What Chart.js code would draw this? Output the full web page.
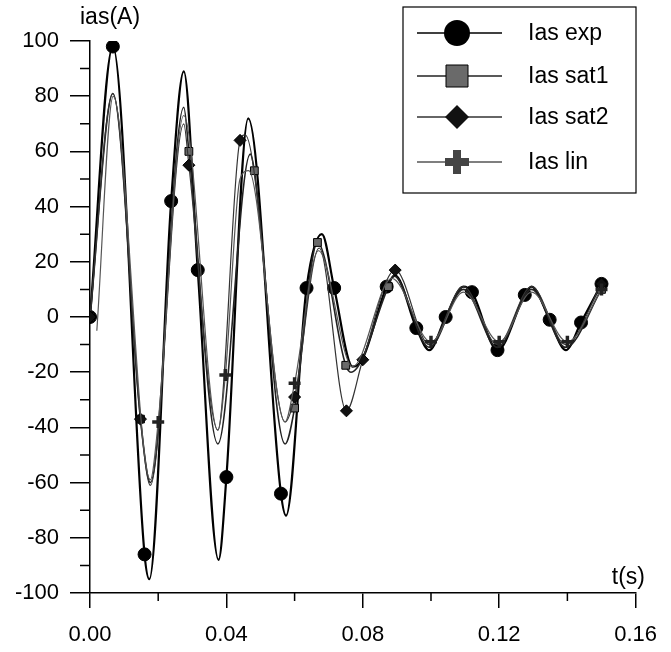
<!DOCTYPE html>
<html>
<head>
<meta charset="utf-8">
<title>ias(t)</title>
<script src="https://cdn.jsdelivr.net/npm/chart.js@4/dist/chart.umd.min.js"></script>
<style>
  html, body { margin: 0; padding: 0; background: #fff; }
  #wrap { width: 671px; height: 652px; }
</style>
</head>
<body>
<div id="wrap"><canvas id="myChart" width="671" height="652"></canvas></div>
<script>
// measured current (exp) and three simulations, time in s, current in A
const expT = [0, 0.0067, 0.0160, 0.0174, 0.0238, 0.0275, 0.0316, 0.0377, 0.0400, 0.0464, 0.0560, 0.0575, 0.0635, 0.0680, 0.0716, 0.0770, 0.0800, 0.0870, 0.0895, 0.0957, 0.0995, 0.1043, 0.1095, 0.1120, 0.1195, 0.1275, 0.1295, 0.1348, 0.1395, 0.1440, 0.1500];
const expI = [0, 98, -86, -95, 42, 89, 17, -88, -58, 72, -64, -72, 10.5, 30, 10.5, -18, -15, 11, 15, -4, -12, 0, 11, 9, -12, 8, 11, -1, -12, -2, 12];
const expMarks = [0, 1, 2, 4, 6, 8, 10, 12, 14, 17, 19, 21, 23, 24, 25, 27, 29, 30];

const sat1T = [0, 0.0067, 0.0148, 0.0177, 0.0275, 0.0290, 0.0375, 0.0470, 0.0482, 0.0572, 0.0600, 0.0667, 0.0750, 0.0765, 0.0875, 0.0890, 0.0995, 0.1095, 0.1195, 0.1295, 0.1395, 0.1500];
const sat1I = [0, 81, -37, -60, 76, 60, -46, 59, 53, -46, -33, 27, -17.5, -20, 11, 15, -11, 10, -11, 10, -11, 10];
const sat1Marks = [0, 2, 5, 8, 10, 11, 12, 14, 21];

const sat2T = [0, 0.0067, 0.0148, 0.0177, 0.0275, 0.0290, 0.0375, 0.0440, 0.0455, 0.0572, 0.0600, 0.0672, 0.0752, 0.0800, 0.0895, 0.0995, 0.1095, 0.1195, 0.1295, 0.1395, 0.1500];
const sat2I = [0, 81, -37, -61, 70, 55, -41, 64, 66, -38, -29, 25, -34, -15.5, 17, -10, 11, -10, 11, -10, 12];
const sat2Marks = [0, 2, 5, 7, 10, 12, 13, 14, 20];

const linT = [0.0020, 0.0068, 0.0177, 0.0200, 0.0275, 0.0375, 0.0397, 0.0440, 0.0465, 0.0572, 0.0600, 0.0670, 0.0770, 0.0885, 0.1000, 0.1095, 0.1200, 0.1295, 0.1400, 0.1500];
const linI = [-5, 80, -59, -38, 73, -41, -21, 50, 53, -38, -24, 24, -18, 14, -9, 9, -9, 9, -9, 10];
const linMarks = [3, 6, 10, 14, 16, 18, 19];

const seriesNames = ['Ias exp', 'Ias sat1', 'Ias sat2', 'Ias lin'];
const xTicks = [0, 0.04, 0.08, 0.12, 0.16];
const yTicks = [-100, -80, -60, -40, -20, 0, 20, 40, 60, 80, 100];

const FONT = 'Liberation Sans, Arial, sans-serif';

function pts(ts, vs) {
    return ts.map((t, i) => ({ x: t, y: vs[i] }));
}
function radii(ts, marks, r) {
    return ts.map((t, i) => marks.includes(i) ? r : 0);
}

const styles = [
    { color: '#000', width: 2.2, point: 'circle', r: 6.5, fill: '#000' },
    { color: '#222', width: 1.6, point: 'rect', r: 5.5, fill: '#6a6a6a' },
    { color: '#333', width: 1.2, point: 'rectRot', r: 6, fill: '#111' },
    { color: '#555', width: 1.2, point: 'cross', r: 6, fill: '#333' }
];

const raw = [
    [expT, expI, expMarks],
    [sat1T, sat1I, sat1Marks],
    [sat2T, sat2I, sat2Marks],
    [linT, linI, linMarks]
];

const datasets = raw.map((s, k) => ({
    label: seriesNames[k],
    data: pts(s[0], s[1]),
    borderColor: styles[k].color,
    borderWidth: styles[k].width,
    cubicInterpolationMode: 'monotone',
    pointStyle: styles[k].point,
    pointRadius: radii(s[0], s[2], styles[k].r),
    pointBackgroundColor: styles[k].fill,
    pointBorderColor: k === 3 ? '#222' : '#000',
    pointBorderWidth: k === 3 ? 3.5 : 1,
    fill: false,
    order: 3 - k
}));

// minor ticks, axis captions and the boxed legend
const decorations = {
    id: 'decorations',
    afterDraw(chart) {
        const ctx = chart.ctx;
        const xs = chart.scales.x, ys = chart.scales.y;
        const left = xs.left, bottom = ys.bottom;
        ctx.save();
        ctx.strokeStyle = '#000';
        ctx.lineWidth = 1.5;
        ctx.beginPath();
        for (let v = -90; v < 100; v += 20) {
            const py = ys.getPixelForValue(v);
            ctx.moveTo(left - 10, py);
            ctx.lineTo(left, py);
        }
        for (let v = 0.02; v < 0.16; v += 0.04) {
            const px = xs.getPixelForValue(v);
            ctx.moveTo(px, bottom);
            ctx.lineTo(px, bottom + 8);
        }
        ctx.stroke();

        ctx.fillStyle = '#000';
        ctx.font = '23px ' + FONT;
        ctx.textBaseline = 'middle';
        ctx.textAlign = 'left';
        ctx.fillText('ias(A)', 80, 18);
        ctx.textAlign = 'right';
        ctx.fillText('t(s)', 645, 578);

        // legend box
        const bx = 403, by = 7, bw = 233, bh = 186;
        ctx.lineWidth = 1.2;
        ctx.strokeRect(bx, by, bw, bh);
        const rowY = [33, 76, 117, 162];
        ctx.textAlign = 'left';
        ctx.font = '23px ' + FONT;
        rowY.forEach((y, k) => {
            const st = styles[k];
            ctx.strokeStyle = st.color;
            ctx.lineWidth = 1.4;
            ctx.beginPath();
            ctx.moveTo(417, y);
            ctx.lineTo(502, y);
            ctx.stroke();
            drawMarker(ctx, k, 457, y);
            ctx.fillStyle = '#000';
            ctx.fillText(seriesNames[k], 528, y + 1);
        });
        ctx.restore();
    }
};

function drawMarker(ctx, k, x, y) {
    ctx.save();
    ctx.fillStyle = styles[k].fill;
    ctx.strokeStyle = '#000';
    ctx.lineWidth = 1;
    ctx.beginPath();
    if (k === 0) {
        ctx.arc(x, y, 13, 0, Math.PI * 2);
        ctx.fill();
    } else if (k === 1) {
        ctx.rect(x - 11, y - 11, 22, 22);
        ctx.fill();
        ctx.stroke();
    } else if (k === 2) {
        ctx.moveTo(x, y - 12);
        ctx.lineTo(x + 12, y);
        ctx.lineTo(x, y + 12);
        ctx.lineTo(x - 12, y);
        ctx.closePath();
        ctx.fill();
    } else {
        ctx.fillStyle = '#444';
        ctx.fillRect(x - 4, y - 12, 8, 24);
        ctx.fillRect(x - 12, y - 4, 24, 8);
    }
    ctx.restore();
}

const config = {
    type: 'line',
    data: { datasets: datasets },
    options: {
        responsive: false,
        animation: false,
        devicePixelRatio: 1,
        layout: { padding: { top: 41, right: 29, left: 0, bottom: 0 } },
        plugins: { legend: { display: false }, tooltip: { enabled: false } },
        scales: {
            x: {
                type: 'linear',
                min: 0,
                max: 0.16,
                afterFit(s) { s.height = 59; },
                afterBuildTicks(s) { s.ticks = xTicks.map(v => ({ value: v })); },
                ticks: {
                    color: '#000',
                    font: { family: FONT, size: 22 },
                    padding: 14,
                    maxRotation: 0,
                    callback: v => v.toFixed(2)
                },
                grid: { drawOnChartArea: false, tickLength: 15, color: '#000', lineWidth: 1.5 },
                border: { color: '#000', width: 1.5 }
            },
            y: {
                min: -100,
                max: 100,
                afterFit(s) { s.width = 90; },
                afterBuildTicks(s) { s.ticks = yTicks.map(v => ({ value: v })); },
                ticks: {
                    color: '#000',
                    font: { family: FONT, size: 22 },
                    padding: 11
                },
                grid: { drawOnChartArea: false, tickLength: 20, color: '#000', lineWidth: 1.5 },
                border: { color: '#000', width: 1.5 }
            }
        }
    },
    plugins: [decorations]
};

const myChart = new Chart(document.getElementById('myChart'), config);
</script>
</body>
</html>
